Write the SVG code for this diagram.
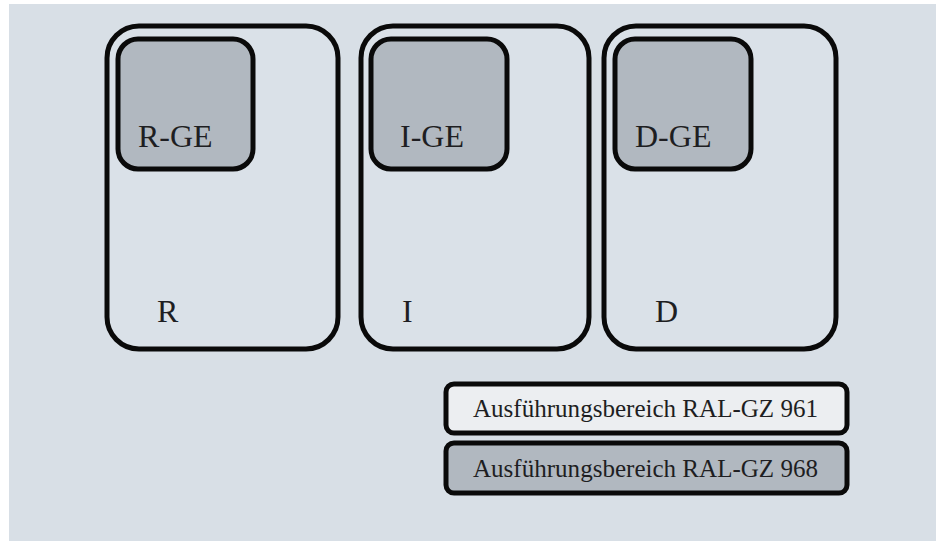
<svg xmlns="http://www.w3.org/2000/svg" width="936" height="541" viewBox="0 0 936 541">
<style>
.outer{fill:#dae1e8;stroke:#0a0a0a;stroke-width:5}
.inner{fill:#b1b8c0;stroke:#0a0a0a;stroke-width:5}
.leg1{fill:#eceef1;stroke:#0a0a0a;stroke-width:5}
.leg2{fill:#b1b8c0;stroke:#0a0a0a;stroke-width:5}
text{font-family:"Liberation Serif","Times New Roman",serif;fill:#1e1e22}
.big{font-size:32px}
.leg{font-size:25px}
</style>
<rect x="0" y="0" width="936" height="541" fill="#ffffff"/>
<rect x="9" y="4" width="927" height="537" fill="#d8dfe6"/>
<g id="R">
<rect class="outer" x="107" y="26" width="231" height="323" rx="32"/>
<rect class="inner" x="118" y="39" width="135" height="130" rx="20"/>
<text class="big" x="138" y="147">R-GE</text>
<text class="big" x="157" y="322">R</text>
</g>
<g id="I">
<rect class="outer" x="361" y="26" width="228" height="323" rx="32"/>
<rect class="inner" x="371" y="39" width="136" height="130" rx="20"/>
<text class="big" x="400" y="147">I-GE</text>
<text class="big" x="402" y="322">I</text>
</g>
<g id="D">
<rect class="outer" x="604" y="26" width="232" height="323" rx="32"/>
<rect class="inner" x="615" y="39" width="136" height="130" rx="20"/>
<text class="big" x="635" y="147">D-GE</text>
<text class="big" x="655" y="322">D</text>
</g>
<g id="legend961">
<rect class="leg1" x="446" y="384" width="401" height="49" rx="8"/>
<text class="leg" x="473" y="417" textLength="345" lengthAdjust="spacingAndGlyphs">Ausführungsbereich RAL-GZ 961</text>
</g>
<g id="legend968">
<rect class="leg2" x="446" y="443" width="401" height="50" rx="8"/>
<text class="leg" x="473" y="477" textLength="345" lengthAdjust="spacingAndGlyphs">Ausführungsbereich RAL-GZ 968</text>
</g>
<g id="connectors"></g>
</svg>
